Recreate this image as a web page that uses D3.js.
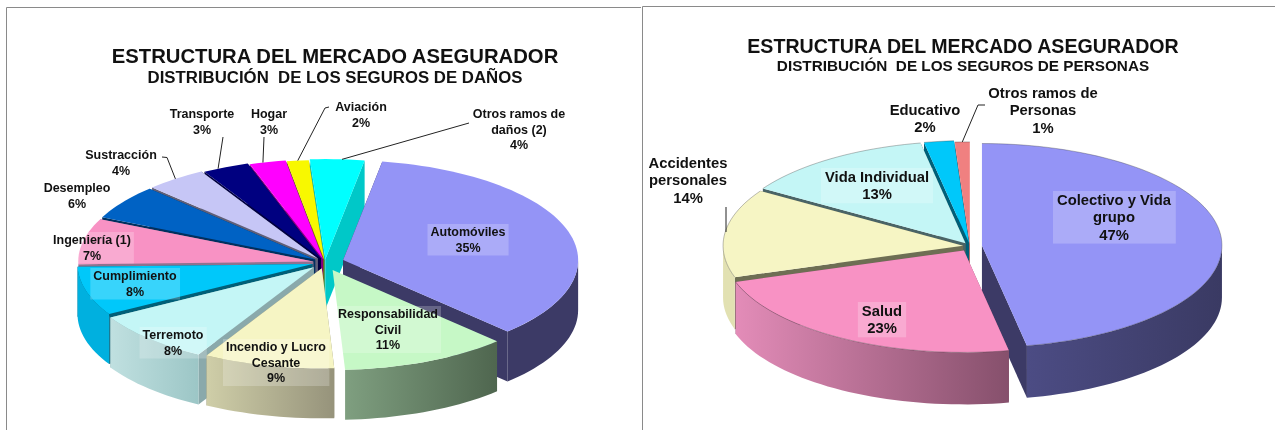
<!DOCTYPE html>
<html><head><meta charset="utf-8">
<script src="https://cdnjs.cloudflare.com/ajax/libs/d3/7.8.5/d3.min.js"></script>
<style>
html,body{margin:0;padding:0;background:#fff;overflow:hidden}
svg{display:block;filter:blur(0.35px)}
text{font-family:"Liberation Sans",Arial,sans-serif;font-weight:bold;fill:#111;text-anchor:middle}
</style></head><body><svg id="c" width="1275" height="430"></svg>
<script>
// ---------- data ----------
const danosCategories=["Automóviles","Responsabilidad|Civil","Incendio y Lucro|Cesante","Terremoto","Cumplimiento","Ingeniería (1)","Desempleo","Sustracción","Transporte","Hogar","Aviación","Otros ramos de|daños (2)"];
const danosValues=[35,11.49,9,8.49,7.9,7.4,5.6,4.2,3.2,2.5,1.5,3.72];
const danosColors=["#9494f6","#c6f8c6","#f6f5c4","#c4f6f6","#00c8fa","#f892c4","#0062c4","#c6c6f6","#000080","#ff00ff","#f8f800","#00ffff"];
const danosSides=["#3c3a66","none","#8e8c70","#8aa9ab","#005f78","#8f7290","#00305f","#5f5f78","#000040","#7f007f","#7a7a00","#00c8c8"];
const danosWalls=[["#3c3a66","#3c3a66"],["#7f9f80","#4f664f"],["#cfcea8","#96937b"],["#c0e0e0","#9cc6c6"],["#00b0df","#00b0df"],["#c87aa0","#c87aa0"],["#004a94","#004a94"],["#9a9ac0","#9a9ac0"],["#000060","#000060"],["#c000c0","#c000c0"],["#c0c000","#c0c000"],["#00c8c8","#00c8c8"]];
const danosExplode=[19,19,14,16,13,12,12,12,10,8,6,8];

const personasCategories=["Colectivo y Vida|grupo","Salud","Accidentes|personales","Vida Individual","Educativo","Otros ramos de|Personas"];
const personasValues=[47,23,14,13,2,1];
const personasColors=["#9494f6","#f892c4","#f6f5c4","#c4f6f6","#00c8fa","#f08080"];
const personasSides=["#3c3a66","#84506c","#6e6e54","#4a6466","#005f78","#a05050"];
const personasWalls=[["#4c4c84","#3a3a63"],["#e38cb8","#86506c"],["#e2e1b2","#e2e1b2"],["#a8c8c8","#a8c8c8"],["#00a0cc","#00a0cc"],["#c06060","#c06060"]];
const personasExplode=[12,12,7,8,8,5];

// ---------- layout ----------
const svg=d3.select("#c");
const defs=svg.append("defs");
const rad=d=>d*Math.PI/180;
let gid=0;

function drawPie(cfg){
  const g=svg.append("g");
  const arcs=d3.pie().sort(null).value(d=>d).startAngle(rad(cfg.start)).endAngle(rad(cfg.start)+2*Math.PI)(cfg.values);
  const pts=(ax,ay,a0,a1)=>{
    const n=Math.max(2,Math.ceil((a1-a0)/rad(2)));
    return d3.range(n+1).map(i=>{const t=a0+(a1-a0)*i/n;return [ax+cfg.rx*Math.sin(t),ay-cfg.ry*Math.cos(t)];});
  };
  const line=d3.line();
  const items=arcs.map((a,i)=>{
    const mid=(a.startAngle+a.endAngle)/2,e=cfg.explode[i];
    return {a,i,mid,ax:cfg.cx+e*Math.sin(mid),ay:cfg.cy-e*cfg.ry/cfg.rx*Math.cos(mid)};
  });
  items.slice().sort((p,q)=>Math.cos(q.mid)-Math.cos(p.mid)).forEach(s=>{
    const {a,i,ax,ay}=s,dp=cfg.depth;
    [a.startAngle,a.endAngle].forEach(t=>{
      const r=[ax+cfg.rx*Math.sin(t),ay-cfg.ry*Math.cos(t)];
      g.append("path").attr("d",line([[ax,ay],r,[r[0],r[1]+dp],[ax,ay+dp]])+"Z").attr("fill",cfg.sides[i]);
    });
    const w0=Math.max(a.startAngle,rad(90)),w1=Math.min(a.endAngle,rad(270));
    if(w1>w0){
      const top=pts(ax,ay,w0,w1),bot=top.map(p=>[p[0],p[1]+dp]).reverse();
      const xs=d3.extent(top,p=>p[0]),id="w"+(gid++);
      const lg=defs.append("linearGradient").attr("id",id).attr("gradientUnits","userSpaceOnUse")
        .attr("x1",xs[0]).attr("x2",xs[1]).attr("y1",0).attr("y2",0);
      lg.append("stop").attr("offset",0).attr("stop-color",cfg.walls[i][0]);
      lg.append("stop").attr("offset",1).attr("stop-color",cfg.walls[i][1]);
      g.append("path").attr("d",line(top.concat(bot))+"Z").attr("fill","url(#"+id+")");
    }
    g.append("path").attr("d",line([[ax,ay]].concat(pts(ax,ay,a.startAngle,a.endAngle)))+"Z")
      .attr("fill",cfg.colors[i]);
    g.append("path").attr("d",line(pts(ax,ay,a.startAngle,a.endAngle)))
      .attr("fill","none").attr("stroke","#333").attr("stroke-opacity",cfg.edge).attr("stroke-width",.6);
  });
  cfg.leaders.forEach(l=>{
    const s=items[l.i],t=s.mid+(l.shift||0);
    const rim=[s.ax+cfg.rx*Math.sin(t),s.ay-cfg.ry*Math.cos(t)];
    g.append("path").attr("d",line(l.from.concat([rim]))).attr("fill","none").attr("stroke","#222").attr("stroke-width",1);
  });
  if(cfg.freeLines) cfg.freeLines.forEach(p=>g.append("path").attr("d",line(p)).attr("fill","none").attr("stroke","#222").attr("stroke-width",1));
  cfg.labels.forEach((l,i)=>{
    const lines=cfg.categories[i].split("|").concat([Math.round(cfg.values[i])+"%"]);
    const box=g.append("rect").attr("fill","#fff").attr("fill-opacity",.22);
    const t=g.append("text").attr("font-size",cfg.font);
    lines.forEach((s,k)=>t.append("tspan").attr("x",l[0]).attr("y",l[1]+k*cfg.lh).text(s));
    if(l[2]){
      const b=t.node().getBBox(),px=l[3]||4;
      box.attr("x",b.x-px).attr("y",b.y-1).attr("width",b.width+2*px).attr("height",b.height+2);
    } else box.remove();
  });
  svg.append("text").attr("x",cfg.title.x).attr("y",cfg.title.y1).attr("font-size",cfg.title.s1).text("ESTRUCTURA DEL MERCADO ASEGURADOR");
  svg.append("text").attr("x",cfg.title.x).attr("y",cfg.title.y2).attr("font-size",cfg.title.s2).style("white-space","pre").text(cfg.title.sub);
}

svg.append("path").attr("d","M6.5,430V7.5H641").attr("fill","none").attr("stroke","#8a8a8a");
svg.append("path").attr("d","M642.5,430V6.5H1275").attr("fill","none").attr("stroke","#8a8a8a");

drawPie({values:danosValues,categories:danosCategories,colors:danosColors,sides:danosSides,walls:danosWalls,explode:danosExplode,
  start:9.6,cx:325,cy:262.5,rx:235,ry:100,depth:50,edge:0,font:12.5,lh:15.5,
  title:{x:335,y1:63,s1:20.3,y2:83,s2:16.8,sub:"DISTRIBUCIÓN  DE LOS SEGUROS DE DAÑOS"},
  labels:[[468,236,1,3],[388,318,1,3],[276,351,1,3],[173,339,1,3],[135,280,1,3],[92,244,1,3],[77,192],[121,159],[202,118],[269,118],[361,111],[519,118]],
  leaders:[{i:7,from:[[162,157],[167,157.5]]},{i:8,from:[[223,137]],shift:-.035},{i:9,from:[[264,137]],shift:-.02},{i:10,from:[[329,107],[325,108]]},{i:11,from:[[469,123]],shift:.02}]
});
drawPie({values:personasValues,categories:personasCategories,colors:personasColors,sides:personasSides,walls:personasWalls,explode:personasExplode,
  start:0,cx:970,cy:246,rx:240,ry:102,depth:52,edge:.55,font:14.8,lh:17.3,
  title:{x:963,y1:53,s1:19.6,y2:71,s2:15.3,sub:"DISTRIBUCIÓN  DE LOS SEGUROS DE PERSONAS"},
  labels:[[1114,205,1,4],[882,316,1,4],[688,168],[877,182,1,4],[925,115],[1043,98]],
  leaders:[{i:5,from:[[985,105],[978,105]]}],
  freeLines:[[[726,207],[726,232]]]
});
</script></body></html>
